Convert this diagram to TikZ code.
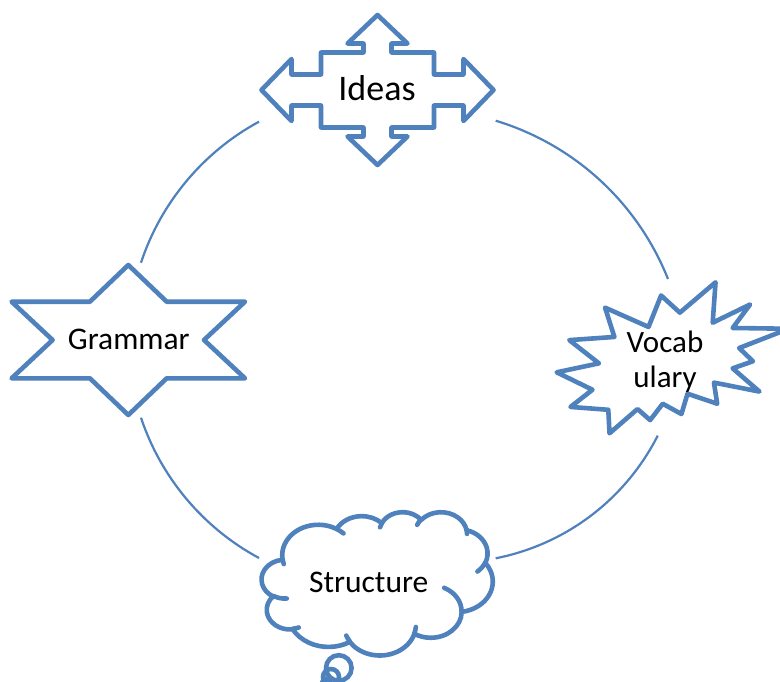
\documentclass[tikz,border=0pt]{standalone}
\usepackage{fontspec}
\setmainfont{Carlito}
\definecolor{accent}{RGB}{79,129,189}
\tikzset{
  shapeline/.style={draw=accent, line width=4.6pt, line join=round, fill=white},
  dimple/.style={draw=accent, line width=4.6pt, line cap=round},
  cycarc/.style={draw=accent, line width=2.2pt},
  shapetext/.style={inner sep=0pt, anchor=base, text=black},
  % elliptical arc given by radii and visual start/sweep angles (degrees)
  ooarc/.style n args={4}{insert path={arc[x radius=#1, y radius=#2,
    start angle={atan2((#1)*sin(#3),(#2)*cos(#3))},
    delta angle={mod(atan2((#1)*sin((#3)+(#4)),(#2)*cos((#3)+(#4)))-atan2((#1)*sin(#3),(#2)*cos(#3))+720,360)}]}},
}
\begin{document}
\begin{tikzpicture}[x=1pt,y=-1pt]
\useasboundingbox (0,0) rectangle (780,682);
\clip (0,0) rectangle (780,682);
\fill[white] (0,0) rectangle (780,682);

% end points of the cycle arcs
\coordinate (ideasL) at (259,121.7);
\coordinate (ideasR) at (495.7,120.7);
\coordinate (vocabT) at (668,279);
\coordinate (vocabB) at (657.7,435.7);
\coordinate (structR) at (495.7,558.3);
\coordinate (structL) at (259,558);
\coordinate (gramB) at (141,417.7);
\coordinate (gramT) at (141,262.7);

\draw[cycarc] (ideasR) to[bend left=25.7, looseness=0.9] (vocabT);
\draw[cycarc] (vocabB) to[bend left=25.9, looseness=0.9] (structR);
\draw[cycarc] (structL) to[bend left=21.7, looseness=0.88] (gramB);
\draw[cycarc] (gramT) to[bend left=21.7, looseness=0.88] (ideasL);

% four-way arrow
\begin{scope}[shift={(377.5,90)}]
\path[shapeline] (0,-75) -- (30,-46.5) -- (14,-46.5) -- (14,-37.5) -- (56.5,-37.5)
  -- (56.5,-15.5) -- (86,-15.5) -- (86,-31) -- (116,0) -- (86,31) -- (86,15.5)
  -- (56.5,15.5) -- (56.5,37.5) -- (14,37.5) -- (14,46.5) -- (30,46.5) -- (0,75)
  -- (-30,46.5) -- (-14,46.5) -- (-14,37.5) -- (-56.5,37.5) -- (-56.5,15.5)
  -- (-86,15.5) -- (-86,31) -- (-116,0) -- (-86,-31) -- (-86,-15.5)
  -- (-56.5,-15.5) -- (-56.5,-37.5) -- (-14,-37.5) -- (-14,-46.5) -- (-30,-46.5) -- cycle;
\end{scope}

% six-pointed star
\begin{scope}[shift={(128.3,340)}]
\path[shapeline] (0,-75) -- (38.4,-38.3) -- (116.7,-38.3) -- (75.7,0) -- (116.7,38.3)
  -- (38.4,38.3) -- (0,75) -- (-38.4,38.3) -- (-116.7,38.3) -- (-75.7,0)
  -- (-116.7,-38.3) -- (-38.4,-38.3) -- cycle;
\end{scope}

% explosion
\begin{scope}[shift={(556.7,282.3)}, xscale=1.0741, yscale=0.6991]
\path[shapeline] (114.64,43.40) -- (97.22,18.87) -- (85.48,63.83) -- (45.03,36.26)
  -- (53.73,78.16) -- (11.74,82.70) -- (39.34,115.92) -- (0,128.75)
  -- (33.29,153.72) -- (12.83,178.24) -- (48.04,182.39) -- (49.18,216.00)
  -- (75.25,181.25) -- (86.98,197.12) -- (98.71,173.71) -- (116.14,188.44)
  -- (121.78,159.37) -- (149.43,173.71) -- (146.40,143.48) -- (188.78,156.32)
  -- (163.82,123.11) -- (182.70,112.92) -- (169.86,94.04) -- (216.00,66.46)
  -- (163.82,65.33) -- (180.05,31.72) -- (145.24,57.78) -- (147.89,0) -- cycle;
\end{scope}

% cloud with its thought bubbles
\fill[white] (338.8,668) circle[radius=12.8] (331,677) circle[radius=8] (326,683) circle[radius=4];
\draw[draw=accent, line width=4.6pt] (338.8,668) circle[radius=12.8] (331,677) circle[radius=8] (326,683) circle[radius=4];
\begin{scope}[shift={(261.7,511.7)}, xscale=0.5347, yscale=0.3317]
\path[shapeline] (39.00,143.70)
  [ooarc={67.53}{91.90}{-190.4875}{123.7805}]
  [ooarc={53.33}{72.67}{-144.1024}{89.9452}]
  [ooarc={43.65}{59.45}{-145.8079}{99.7230}]
  [ooarc={48.57}{65.95}{-130.9861}{117.2417}]
  [ooarc={53.33}{72.73}{-78.7089}{109.0269}]
  [ooarc={67.75}{92.20}{-46.2673}{130.2690}]
  [ooarc={57.85}{78.67}{0.6250}{114.0333}]
  [ooarc={67.52}{92.15}{22.4516}{115.1726}]
  [ooarc={77.20}{105.43}{66.2426}{75.7110}]
  [ooarc={43.60}{59.18}{-274.9421}{146.7356}]
  [ooarc={43.45}{59.45}{-246.8285}{152.5189}]
  -- cycle;
\path[dimple]
  (46.93,261.77) [ooarc={43.45}{59.45}{86.742}{26.4295}]
  (69.28,348.99) [ooarc={43.60}{59.18}{73.6105}{11.4475}]
  (164.78,390.90) [ooarc={67.52}{92.15}{137.6242}{14.0811}]
  (288.27,347.51) [ooarc={67.52}{92.15}{6.4533}{15.9984}]
  (341.29,229.54) [ooarc={57.85}{78.67}{-70.2924}{70.9174}]
  (417.98,153.54) [ooarc={53.33}{72.73}{30.3180}{27.7515}]
  (383.24,54.26) [ooarc={48.57}{65.95}{-13.7443}{14.8589}]
  (290.78,39.52) [ooarc={48.57}{65.95}{-149.1815}{18.1954}]
  (221.41,47.20) [ooarc={43.65}{59.45}{-163.4943}{17.6864}]
  (140.00,51.92) [ooarc={67.53}{91.90}{-66.7070}{12.3194}]
  (41.27,157.89) [ooarc={67.53}{91.90}{157.6544}{11.8582}];
\end{scope}

% labels
\node[shapetext, font=\fontsize{36}{40}\selectfont] (ideas) at (377,101) {Ideas};
\node[shapetext, font=\fontsize{31.5}{35}\selectfont] (grammar) at (128.8,349.3) {Grammar};
\node[shapetext, font=\fontsize{31.5}{35}\selectfont] (structure) at (368.7,592) {Structure};
\node[shapetext, font=\fontsize{31}{35}\selectfont, align=center] (vocab) at (665,387) {Vocab\\ulary};
\end{tikzpicture}
\end{document}
